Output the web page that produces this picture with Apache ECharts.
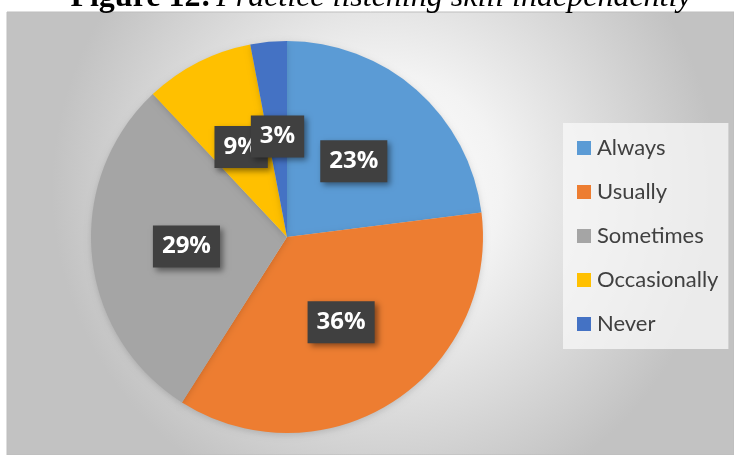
<!DOCTYPE html>
<html>
<head>
<meta charset="utf-8">
<script src="https://cdn.jsdelivr.net/npm/echarts@6/dist/echarts.min.js"></script>
<style>
  html, body { margin: 0; padding: 0; background: #fff; }
  #chart { width: 734px; height: 455px; }
</style>
</head>
<body>
<div id="chart"></div>
<script>
const categories = ['Always', 'Usually', 'Sometimes', 'Occasionally', 'Never']
const values = [23, 36, 29, 9, 3]
const colors = ['#5B9BD5', '#ED7D31', '#A5A5A5', '#FFC000', '#4472C4']

const chart = echarts.init(document.getElementById('chart'))

const option = {
  animation: false,
  backgroundColor: '#fff',
  title: {
    text: '{b|Figure 12:} {i|Practice listening skill independently}',
    left: 376,
    textAlign: 'center',
    top: -23,
    textStyle: {
      rich: {
        b: { fontFamily: 'Liberation Serif', fontWeight: 'bold', fontSize: 32, color: '#000' },
        i: { fontFamily: 'Liberation Serif', fontStyle: 'italic', fontWeight: 'normal', fontSize: 32, color: '#000' },
      },
    },
  },
  graphic: [
    {
      type: 'rect',
      z: -10,
      shape: { x: 7, y: 12, width: 727, height: 443 },
      style: {
        stroke: '#bdbdbd',
        lineWidth: 1,
        fill: {
          type: 'radial', x: 0.52, y: 0.4, r: 0.75,
          colorStops: [
            { offset: 0, color: '#ffffff' },
            { offset: 0.35, color: '#f3f3f3' },
            { offset: 1, color: '#c2c2c2' },
          ],
        },
      },
    },
  ],
  legend: {
    orient: 'vertical',
    left: 563,
    top: 123,
    padding: [14, 10, 14, 14],
    backgroundColor: 'rgba(248,248,248,0.75)',
    itemWidth: 14,
    itemHeight: 14,
    itemGap: 22,
    icon: 'rect',
    textStyle: { fontFamily: 'Lato', fontSize: 22, color: '#404040', padding: [0, 0, 0, 1] },
    data: categories,
  },
  series: [
    {
      type: 'pie',
      center: [287, 237],
      radius: 196,
      startAngle: 90,
      clockwise: true,
      itemStyle: { borderWidth: 0, shadowColor: 'rgba(0,0,0,0.15)', shadowBlur: 6, shadowOffsetY: 2 },
      labelLayout: { hideOverlap: false },
      label: {
        show: true,
        position: 'inside',
        formatter: '{d}%',
        color: '#fff',
        fontFamily: 'Open Sans',
        fontWeight: 'bold',
        fontSize: 24,
        lineHeight: 28,
        backgroundColor: '#404040',
        padding: [8, 9, 6, 9],
        shadowColor: 'rgba(0,0,0,0.45)',
        shadowBlur: 6,
        shadowOffsetX: 3,
        shadowOffsetY: 3,
      },
      labelLine: { show: false },
      data: categories.map((name, i) => ({
        name,
        value: values[i],
        itemStyle: { color: colors[i] },
      })),
    },
  ],
}

chart.setOption(option)
</script>
</body>
</html>
